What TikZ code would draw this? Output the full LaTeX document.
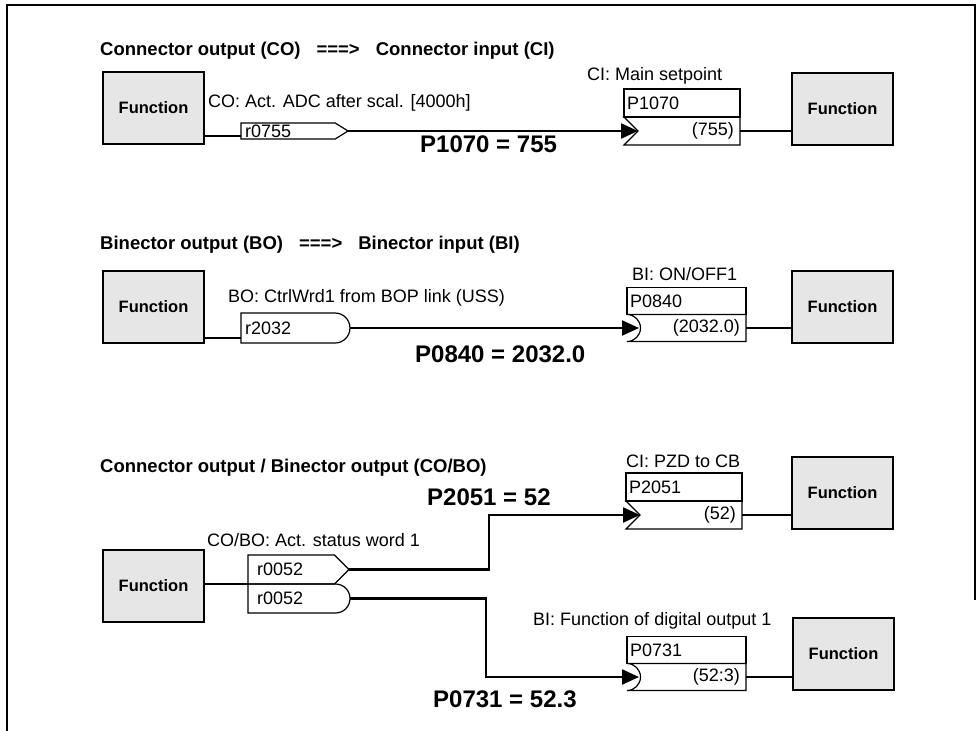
\documentclass[tikz,border=0pt]{standalone}
\usepackage{fontspec}
\setmainfont{Liberation Sans}
\usepackage{tikz}
\usetikzlibrary{arrows.meta,positioning,calc,shapes.symbols,shapes.misc}
\definecolor{fngray}{HTML}{E6E6E6}
\tikzset{
  fn/.style={draw, line width=1.8pt, fill=fngray, minimum width=101pt, minimum height=72pt, inner sep=0pt, font=\fontsize{16.5}{18}\selectfont\bfseries},
  lbl/.style={inner sep=0pt, font=\fontsize{18}{20}\selectfont},
  ttl/.style={inner sep=0pt, anchor=base west, font=\fontsize{18.5}{22}\selectfont\bfseries},
  eq/.style={inner sep=0pt, anchor=base west, font=\fontsize{24}{28}\selectfont\bfseries},
  pin/.style={draw, line width=1.2pt, inner sep=0pt, outer sep=0pt},
  row/.style={pin, rectangle},
  cout/.style={pin, signal, signal to=east, signal pointer angle=90, anchor=west},
  bout/.style={pin, rounded rectangle, rounded rectangle west arc=none, anchor=west},
  cin/.style={pin, signal, signal to=nowhere, signal from=west, signal pointer angle=90, anchor=east},
  bin/.style={pin, rounded rectangle, rounded rectangle east arc=none, rounded rectangle west arc=concave, anchor=east},
  wire/.style={line width=1.6pt},
  bus/.style={line width=2.3pt, -{Triangle[length=17pt,width=15pt]}},
  frm/.style={line width=2pt},
}
\newcommand{\gapto}{\hspace{16pt}===>\hspace{16pt}}
\begin{document}
\begin{tikzpicture}[x=1pt, y=-1pt]
  \useasboundingbox (0,0) rectangle (978,731);
  \draw[frm] (7,731) -- (7,5) -- (975,5) -- (975,600);

  % CO ===> CI
  \node[ttl] (ttl1) at (100,55) {Connector output (CO)\gapto Connector input (CI)};
  \node[fn] (fnA1) at (153.5,108) {Function};
  \node[lbl, anchor=base west] (co1) at (208,107) {CO: Act. ADC after scal. [4000h]};
  \node[cout, minimum width=107pt, minimum height=16pt, signal pointer angle=64] (r0755) at (241,131) {};
  \node[lbl, anchor=west] (t0755) at ($(r0755.west)+(4,0)$) {r0755};
  \node[lbl, anchor=base west] (ci1) at (587,80) {CI: Main setpoint};
  \node[row, minimum width=116pt, minimum height=28pt] (ciTop) at (682,103) {};
  \node[lbl, anchor=west] (p1070) at ($(ciTop.west)+(3,0)$) {P1070};
  \node[cin, minimum width=116pt, minimum height=28pt] (ciIn) at (740,131) {};
  \node[lbl, anchor=east] (v755) at ($(ciIn.east)+(-6,0)$) {(755)};
  \node[fn] (fnB1) at (842.5,109) {Function};
  \node[eq] (eq1) at (420,152) {P1070 = 755};
  \coordinate (a1) at ($(r0755.west)+(0,5)$);
  \coordinate (n1) at ($(ciTop.west |- ciIn.east)+(14,0)$);
  \draw[wire] (fnA1.east |- a1) -- (a1);
  \draw[bus] (r0755.east) -- (n1);
  \draw[wire] (ciIn.east) -- (fnB1.west |- ciIn.east);

  % BO ===> BI
  \node[ttl] (ttl2) at (100,249) {Binector output (BO)\gapto Binector input (BI)};
  \node[fn] (fnA2) at (153.5,307) {Function};
  \node[lbl, anchor=base west] (bo2) at (228,302) {BO: CtrlWrd1 from BOP link (USS)};
  \node[bout, minimum width=109pt, minimum height=30pt] (r2032) at (241,328) {};
  \node[lbl, anchor=west] (t2032) at ($(r2032.west)+(4,0)$) {r2032};
  \node[lbl, anchor=base west] (bi2) at (632,280) {BI: ON/OFF1};
  \node[row, minimum width=119pt, minimum height=27pt] (biTop) at (686.5,301) {};
  \node[lbl, anchor=west] (p0840) at ($(biTop.west)+(3,0)$) {P0840};
  \node[bin, minimum width=119pt, minimum height=27pt] (biIn) at (746,328) {};
  \node[lbl, anchor=east] (v2032) at ($(biIn.east)+(-6,0)$) {(2032.0)};
  \node[fn] (fnB2) at (842.5,307) {Function};
  \node[eq] (eq2) at (415,362) {P0840 = 2032.0};
  \coordinate (a2) at ($(r2032.west)+(0,10)$);
  \coordinate (n2) at ($(biTop.west |- biIn.east)+(12,0)$);
  \draw[wire] (fnA2.east |- a2) -- (a2);
  \draw[bus] (r2032.east) -- (n2);
  \draw[wire] (biIn.east) -- (fnB2.west |- biIn.east);

  % CO/BO
  \node[ttl] (ttl3) at (100,472) {Connector output / Binector output (CO/BO)};
  \node[lbl, anchor=base west] (cobo) at (207,546) {CO/BO: Act. status word 1};
  \node[fn] (fnA3) at (153.5,586) {Function};
  \node[cout, minimum width=101pt, minimum height=29pt] (r52a) at (248,569.5) {};
  \node[bout, minimum width=102pt, minimum height=29pt] (r52b) at (248,598.5) {};
  \node[lbl, anchor=west] (t52a) at ($(r52a.west)+(9,0)$) {r0052};
  \node[lbl, anchor=west] (t52b) at ($(r52b.west)+(9,0)$) {r0052};
  \node[lbl, anchor=base west] (ci3) at (626,467) {CI: PZD to CB};
  \node[row, minimum width=116pt, minimum height=28pt] (pzdTop) at (684,487) {};
  \node[lbl, anchor=west] (p2051) at ($(pzdTop.west)+(3,0)$) {P2051};
  \node[cin, minimum width=116pt, minimum height=28pt] (pzdIn) at (742,515) {};
  \node[lbl, anchor=east] (v52) at ($(pzdIn.east)+(-6,0)$) {(52)};
  \node[fn] (fnB3) at (842.5,493) {Function};
  \node[eq] (eq3) at (427,505) {P2051 = 52};
  \node[lbl, anchor=base west] (bi3) at (533,625) {BI: Function of digital output 1};
  \node[row, minimum width=119pt, minimum height=27pt] (doTop) at (686.5,650) {};
  \node[lbl, anchor=west] (p0731) at ($(doTop.west)+(3,0)$) {P0731};
  \node[bin, minimum width=119pt, minimum height=27pt] (doIn) at (746,677) {};
  \node[lbl, anchor=east] (v523) at ($(doIn.east)+(-6,0)$) {(52:3)};
  \node[fn] (fnB4) at (843.5,654) {Function};
  \node[eq] (eq4) at (433,707) {P0731 = 52.3};
  \coordinate (a3) at (r52a.west |- r52b.north);
  \coordinate (n3) at ($(pzdTop.west |- pzdIn.east)+(14,0)$);
  \coordinate (n4) at ($(doTop.west |- doIn.east)+(12,0)$);
  \draw[wire] (fnA3.east |- a3) -- (a3);
  \draw[bus] (r52a.east) -| ($(r52a.east)!.48!(n3)$) |- (n3);
  \draw[bus] (r52b.east) -| ($(r52b.east)!.47!(n4)$) |- (n4);
  \draw[wire] (pzdIn.east) -- (fnB3.west |- pzdIn.east);
  \draw[wire] (doIn.east) -- (fnB4.west |- doIn.east);
\end{tikzpicture}
\end{document}
